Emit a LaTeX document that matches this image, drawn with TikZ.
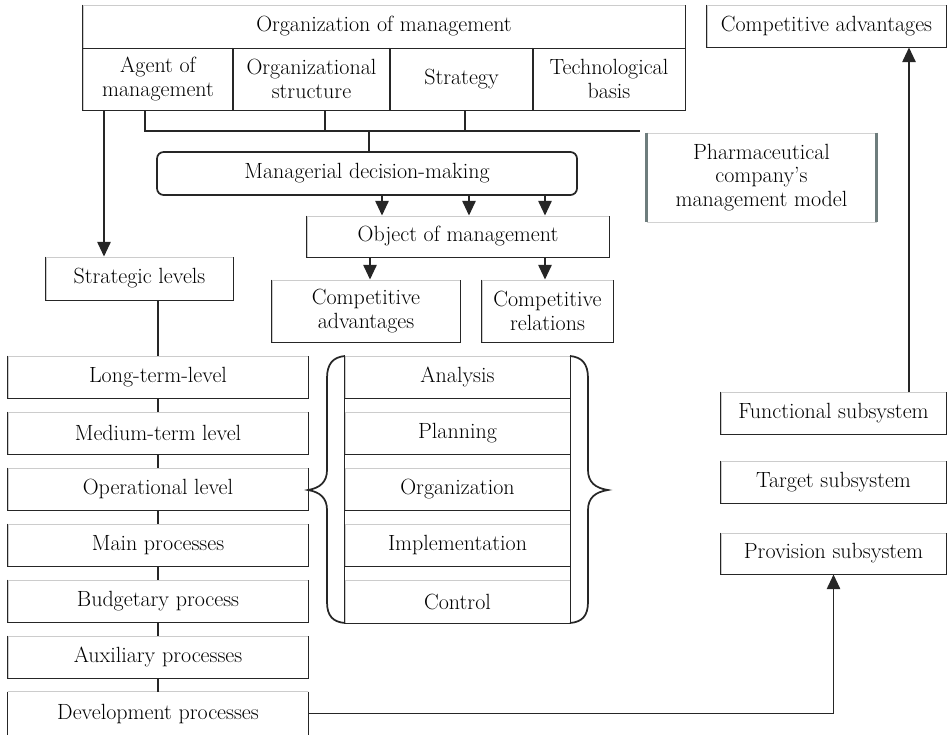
\documentclass[tikz,border=0pt]{standalone}
\usetikzlibrary{arrows.meta,calc}
\newcommand\fs{\fontsize{16.5}{17.5}\selectfont}
\newcommand\bx[7][]{\node[box,#1, minimum width={(#5-#3)*0.75pt}, minimum height={(#6-#4)*0.75pt}] (#2) at ({(#3+#5)/2},{(#4+#6)/2}) {#7};}
\newcommand\sides[1]{\draw[ln] (#1.north west) -- (#1.south west) -- (#1.south east) -- (#1.north east);}
\tikzset{
  box/.style={draw=gray!40, line width=0.7pt, inner sep=0pt, align=center, font=\fs, text=black},
  ln/.style={line width=1.3pt, draw=black!85},
  arr/.style={ln, -{Triangle[length=11pt,width=10pt]}},
}
\begin{document}
\begin{tikzpicture}[x=0.75pt,y=-0.75pt]
\useasboundingbox (0,0) rectangle (948,735);
% top block
\bx{orgtop}{83}{5}{685}{48}{Organization of management}
\bx{agent}{83}{48}{233}{110}{Agent of\\management}
\bx{orgstr}{233}{48}{390}{110}{Organizational\\structure}
\bx{strat}{390}{48}{533}{110}{Strategy}
\bx{tech}{533}{48}{685}{110}{Technological\\basis}
\foreach \n in {orgtop,agent,orgstr,strat,tech} {\sides{\n}}
% bus
\coordinate (busL) at (145,131);
\coordinate (busR) at (640,131);
\draw[ln] (agent.south -| busL) -- (busL) -- (busR);
\draw[ln] (orgstr.south -| 325,0) -- (325,131);
\draw[ln] (strat.south -| 465,0) -- (465,131);
% decision
\node[box, draw=black!85, line width=1.3pt, rounded corners=5pt, minimum width={420*0.75pt}, minimum height={43*0.75pt}] (dec) at (367,173.5) {Managerial decision-making};
\draw[ln] (369,131) -- (dec.north -| 369,0);
% object
\bx{obj}{307}{216}{609}{257}{Object of management}
\sides{obj}
\foreach \xx in {382,469,545} {\draw[arr] (dec.south -| \xx,0) -- (obj.north -| \xx,0);}
\bx{cadv}{272}{280}{460}{342}{Competitive\\advantages}
\bx{crel}{482}{280}{613}{342}{Competitive\\relations}
\sides{cadv}\sides{crel}
\draw[arr] (obj.south -| 370,0) -- (cadv.north -| 370,0);
\draw[arr] (obj.south -| 545,0) -- (crel.north -| 545,0);
% strategic levels
\bx{strlev}{46}{257}{233}{300}{Strategic levels}
\sides{strlev}
\coordinate (a1) at (104,110);
\draw[arr] (a1) -- (a1 |- strlev.north);
% left column
\bx{long}{8}{356}{308}{398}{Long-term-level}
\bx{med}{8}{412}{308}{454}{Medium-term level}
\bx{oper}{8}{468}{308}{510}{Operational level}
\bx{mainp}{8}{524}{308}{566}{Main processes}
\bx{budg}{8}{580}{308}{622}{Budgetary process}
\bx{aux}{8}{636}{308}{678}{Auxiliary processes}
\bx[draw=none]{dev}{8}{692}{308}{735}{Development processes}
\foreach \n in {long,med,oper,mainp,budg,aux} {\sides{\n}}
\draw[draw=gray!40, line width=0.7pt] (dev.north west) -- (dev.north east);
\draw[ln] (dev.north west) -- (dev.south west) (dev.north east) -- (dev.south east);
\draw[ln] (long.north) -- (long.north |- strlev.south);
\draw[ln] (long.south) -- (med.north);
\draw[ln] (med.south) -- (oper.north);
\draw[ln] (oper.south) -- (mainp.north);
\draw[ln] (mainp.south) -- (budg.north);
\draw[ln] (budg.south) -- (aux.north);
\draw[ln] (aux.south) -- (dev.north);
% middle column
\bx{ana}{345}{356}{570}{398}{Analysis}
\bx{plan}{345}{412}{570}{454}{Planning}
\bx{orgn}{345}{468}{570}{510}{Organization}
\bx{impl}{345}{524}{570}{566}{Implementation}
\bx{ctrl}{345}{580}{570}{623}{Control}
\foreach \n in {ana,plan,orgn,impl,ctrl} {\draw[ln] (\n.south west) -- (\n.south east);}
\draw[ln] (ana.north west) -- (ctrl.south west);
\draw[ln] (ana.north east) -- (ctrl.south east);
% braces
\draw[ln] (345,356) .. controls (333,357) and (327,364) .. (327,378) -- (327,470) .. controls (327,482) and (320,488) .. (308,490) .. controls (320,492) and (327,498) .. (327,510) -- (327,602) .. controls (327,616) and (333,622) .. (345,623);
\draw[ln] (570,356) .. controls (582,357) and (588,364) .. (588,378) -- (588,470) .. controls (588,482) and (595,488) .. (608,490) .. controls (595,492) and (588,498) .. (588,510) -- (588,602) .. controls (588,616) and (582,622) .. (570,623);
% pharmaceutical
\bx[draw=gray!35]{pharm}{647}{133}{876}{222}{Pharmaceutical\\company’s\\management model}
\draw[line width=2.4pt, draw={rgb,255:red,110;green,125;blue,125}] (pharm.north west) -- (pharm.south west) (pharm.north east) -- (pharm.south east);
% right column
\bx{cadv2}{707}{5}{946}{47}{Competitive advantages}
\bx{func}{721}{392}{946}{434}{Functional subsystem}
\bx{targ}{721}{461}{946}{503}{Target subsystem}
\bx{prov}{721}{533}{946}{574}{Provision subsystem}
\foreach \n in {cadv2,func,targ,prov} {\sides{\n}}
\coordinate (a2) at (909,392);
\draw[arr] (a2) -- (a2 |- cadv2.south);
\draw[arr] (dev.east) -| (prov.south);
\end{tikzpicture}
\end{document}
